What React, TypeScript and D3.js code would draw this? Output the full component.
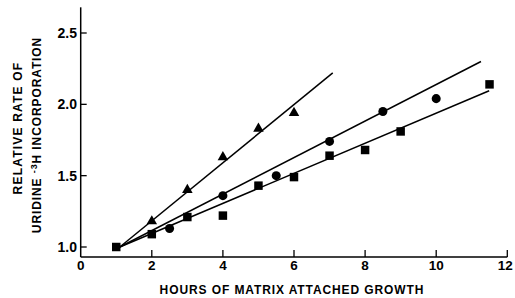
import React from "react";
import * as d3 from "d3";

const xTicks = [0, 2, 4, 6, 8, 10, 12];
const yTicks = [1.0, 1.5, 2.0, 2.5];
const yTickLabels = ["1.0", "1.5", "2.0", "2.5"];

const triX = [2, 3, 4, 5, 6];
const triY = [1.18, 1.40, 1.63, 1.83, 1.94];
const circX = [2.5, 4, 5.5, 7, 8.5, 10];
const circY = [1.13, 1.36, 1.50, 1.74, 1.95, 2.04];
const sqX = [1, 2, 3, 4, 5, 6, 7, 8, 9, 11.5];
const sqY = [1.0, 1.09, 1.21, 1.22, 1.43, 1.49, 1.64, 1.68, 1.81, 2.14];

const triLineX = [1.1, 7.09];
const triLineY = [1.0, 2.22];
const circLineX = [1.1, 11.26];
const circLineY = [1.0, 2.30];
const sqLineX = [1.1, 11.49];
const sqLineY = [1.0, 2.095];

const xTitle = "HOURS OF MATRIX ATTACHED GROWTH";
const yTitle1 = "RELATIVE RATE OF";

export default function App() {
  const x = d3.scaleLinear().domain([0, 12]).range([80.7, 507.3]);
  const y = d3.scaleLinear().domain([1, 2.5]).range([247, 33]);
  const yBottom = 0.93;
  const yTop = 2.68;
  const font = "'Liberation Sans', Arial, sans-serif";
  const line = d3.line<[number, number]>().x((d) => x(d[0])).y((d) => y(d[1]));
  const mk = (xs: number[], ys: number[]) => xs.map((v, i) => [v, ys[i]] as [number, number]);
  const tri = d3.symbol().type(d3.symbolTriangle).size(48)();
  const circ = d3.symbol().type(d3.symbolCircle).size(64)();
  const sq = d3.symbol().type(d3.symbolSquare).size(72)();

  return (
    <svg width={515} height={298} style={{ position: "fixed", left: 0, top: 0, background: "#fff" }}>
      <rect width={515} height={298} fill="#fff" />
      {/* axes */}
      <line x1={x(0)} x2={x(0)} y1={y(yBottom)} y2={y(yTop)} stroke="#000" strokeWidth={1.5} />
      <line x1={x(0)} x2={x(12)} y1={y(yBottom)} y2={y(yBottom)} stroke="#000" strokeWidth={1.5} />
      {xTicks.map((t) => (
        <g key={"xt" + t}>
          {t > 0 && <line x1={x(t)} x2={x(t)} y1={y(yBottom)} y2={y(yBottom) - 7} stroke="#000" strokeWidth={1.3} />}
          <text x={t === 12 ? x(t) - 2 : x(t)} y={270} textAnchor="middle" fontFamily={font} fontSize={13.5} fontWeight="bold">{t}</text>
        </g>
      ))}
      {yTicks.map((t, i) => (
        <g key={"yt" + t}>
          <line x1={x(0)} x2={x(0) + 6} y1={y(t)} y2={y(t)} stroke="#000" strokeWidth={1.3} />
          <text x={77} y={y(t) + 5} textAnchor="end" fontFamily={font} fontSize={14} fontWeight="bold">{yTickLabels[i]}</text>
        </g>
      ))}
      {/* titles */}
      <text x={292} y={294} textAnchor="middle" fontFamily={font} fontSize={12} fontWeight="bold" letterSpacing={0.9}>{xTitle}</text>
      <text transform="translate(22,128) rotate(-90)" textAnchor="middle" fontFamily={font} fontSize={12} fontWeight="bold" letterSpacing={1.2}>{yTitle1}</text>
      <text transform="translate(41,135) rotate(-90)" textAnchor="middle" fontFamily={font} fontSize={12} fontWeight="bold" letterSpacing={0.9}>
        URIDINE <tspan dy={-4} fontSize={9}>-3</tspan><tspan dy={4}>H INCORPORATION</tspan>
      </text>
      {/* fit lines */}
      <path d={line(mk(triLineX, triLineY)) || ""} fill="none" stroke="#000" strokeWidth={1.5} />
      <path d={line(mk(circLineX, circLineY)) || ""} fill="none" stroke="#000" strokeWidth={1.5} />
      <path d={line(mk(sqLineX, sqLineY)) || ""} fill="none" stroke="#000" strokeWidth={1.5} />
      {/* markers */}
      {mk(triX, triY).map((d, i) => (
        <path key={"t" + i} d={tri || ""} transform={`translate(${x(d[0])},${y(d[1])})`} fill="#000" />
      ))}
      {mk(circX, circY).map((d, i) => (
        <path key={"c" + i} d={circ || ""} transform={`translate(${x(d[0])},${y(d[1])})`} fill="#000" />
      ))}
      {mk(sqX, sqY).map((d, i) => (
        <path key={"s" + i} d={sq || ""} transform={`translate(${x(d[0])},${y(d[1])})`} fill="#000" />
      ))}
    </svg>
  );
}
